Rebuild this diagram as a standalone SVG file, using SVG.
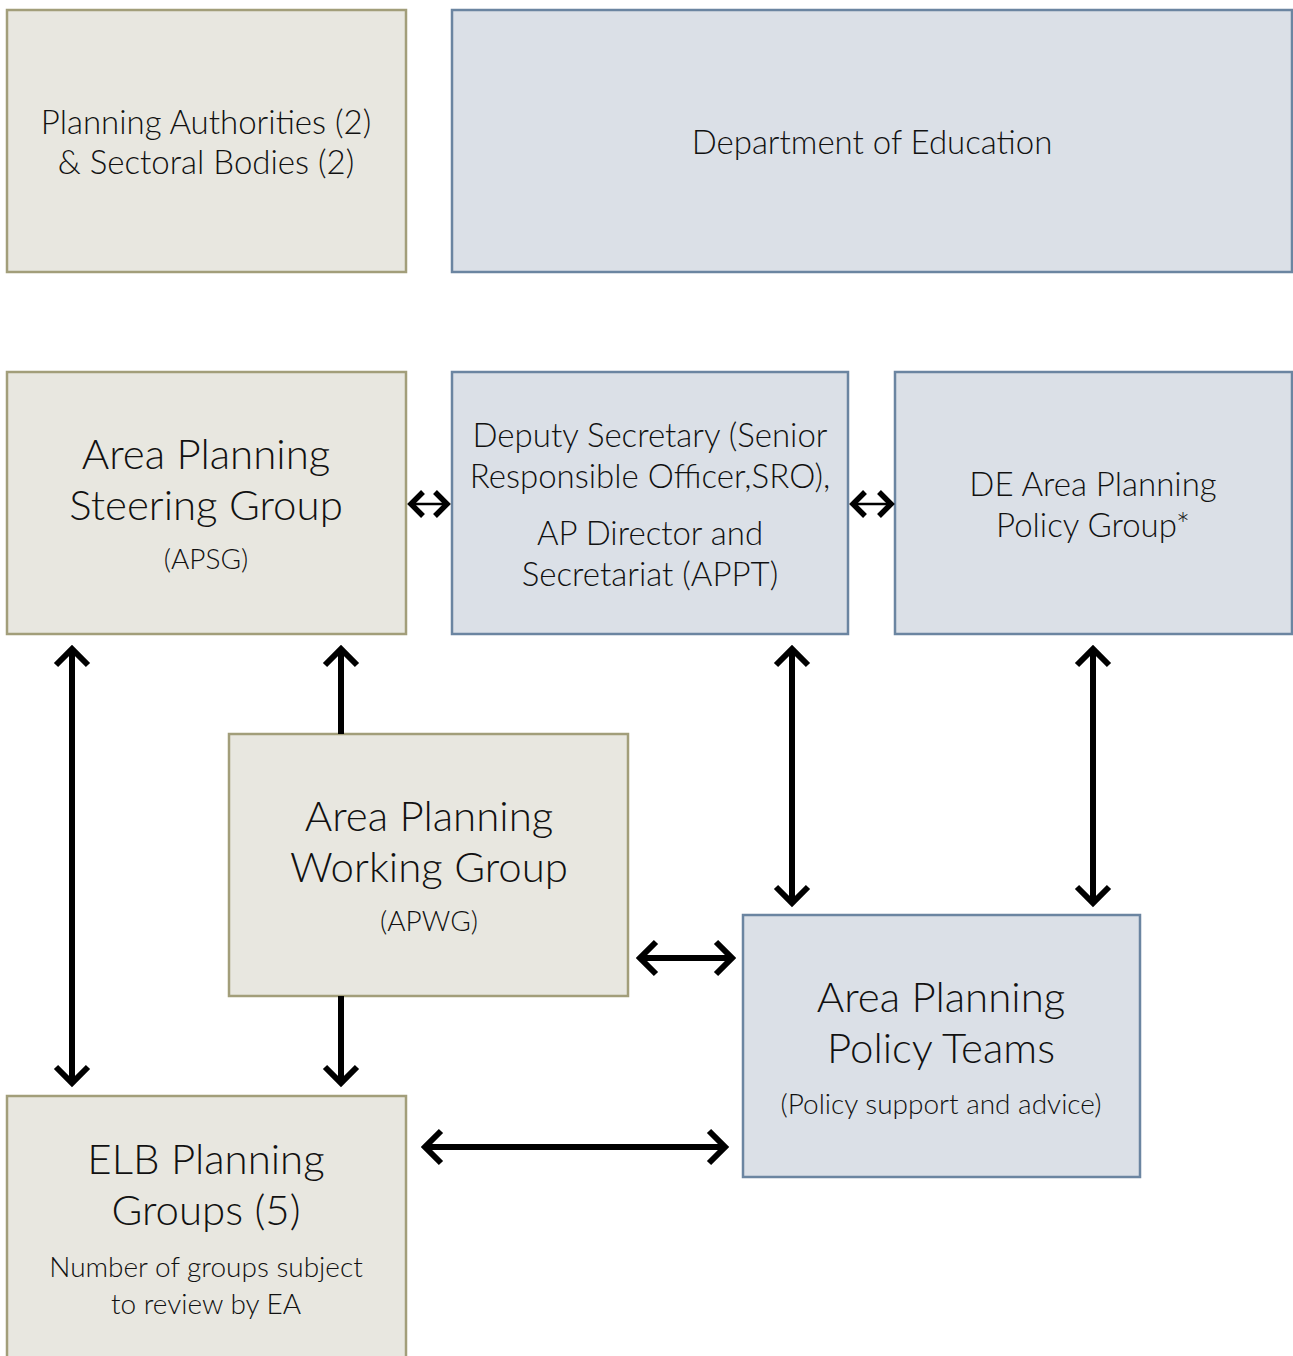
<svg xmlns="http://www.w3.org/2000/svg" width="1293" height="1356" viewBox="0 0 1293 1356">
<style>
.tan{fill:#e8e7e0;stroke:#a29e7a;stroke-width:2.5}
.blue{fill:#dbe0e7;stroke:#6b85a1;stroke-width:2.5}
text{font-family:Lato,"Open Sans","Liberation Sans",sans-serif;font-weight:300;fill:#111;text-anchor:middle}
.m{font-size:33px}
.l{font-size:42px}
.s{font-size:28px}
.c{fill:none;stroke:#000;stroke-width:6;stroke-linejoin:miter;stroke-linecap:butt}
.t{fill:none;stroke:#000;stroke-width:2.5}
.h{fill:none;stroke:#000;stroke-width:5.5;stroke-linejoin:miter}
</style>
<rect width="1293" height="1356" fill="#fff"/>
<g id="planning-authorities">
<rect class="tan" x="7" y="10" width="399" height="262"/>
<text class="m" x="206" y="134">Planning Authorities (2)</text>
<text class="m" x="206" y="174">&amp; Sectoral Bodies (2)</text>
</g>
<g id="department-of-education">
<rect class="blue" x="452" y="10" width="840" height="262"/>
<text class="m" x="872" y="154">Department of Education</text>
</g>
<g id="apsg">
<rect class="tan" x="7" y="372" width="399" height="262"/>
<text class="l" x="206" y="469">Area Planning</text>
<text class="l" x="206" y="520">Steering Group</text>
<text class="s" x="206" y="569">(APSG)</text>
</g>
<g id="deputy-secretary">
<rect class="blue" x="452" y="372" width="396" height="262"/>
<text class="m" x="650" y="447">Deputy Secretary (Senior</text>
<text class="m" x="650" y="488">Responsible Officer,SRO),</text>
<text class="m" x="650" y="545">AP Director and</text>
<text class="m" x="650" y="586">Secretariat (APPT)</text>
</g>
<g id="de-policy-group">
<rect class="blue" x="895" y="372" width="397" height="262"/>
<text class="m" x="1093" y="496">DE Area Planning</text>
<text class="m" x="1093" y="537">Policy Group*</text>
</g>
<g id="apwg">
<rect class="tan" x="229" y="734" width="399" height="262"/>
<text class="l" x="429" y="831">Area Planning</text>
<text class="l" x="429" y="882">Working Group</text>
<text class="s" x="429" y="931">(APWG)</text>
</g>
<g id="policy-teams">
<rect class="blue" x="743" y="915" width="397" height="262"/>
<text class="l" x="941" y="1012">Area Planning</text>
<text class="l" x="941" y="1063">Policy Teams</text>
<text class="s" x="941" y="1114">(Policy support and advice)</text>
</g>
<g id="elb">
<rect class="tan" x="7" y="1096" width="399" height="270"/>
<text class="l" x="206" y="1174">ELB Planning</text>
<text class="l" x="206" y="1225">Groups (5)</text>
<text class="s" x="206" y="1277">Number of groups subject</text>
<text class="s" x="206" y="1314">to review by EA</text>
</g>
<g id="connectors">
<path class="t" d="M412 504H446"/>
<path class="h" d="M423 492L411 504L423 516M435 492L447 504L435 516"/>
<path class="t" d="M854 504H890"/>
<path class="h" d="M865 492L853 504L865 516M879 492L891 504L879 516"/>
<path class="c" d="M72 650V1082M56 665L72 649L88 665M56 1067L72 1083L88 1067"/>
<path class="c" d="M341 734V650M325 665L341 649L357 665"/>
<path class="c" d="M341 996V1082M325 1067L341 1083L357 1067"/>
<path class="c" d="M792 650V902M776 665L792 649L808 665M776 887L792 903L808 887"/>
<path class="c" d="M1093 650V902M1077 665L1093 649L1109 665M1077 887L1093 903L1109 887"/>
<path class="c" d="M641 958H731M656 942L640 958L656 974M716 942L732 958L716 974"/>
<path class="c" d="M425 1147H725M441 1131L425 1147L441 1163M709 1131L725 1147L709 1163"/>
</g>
</svg>
